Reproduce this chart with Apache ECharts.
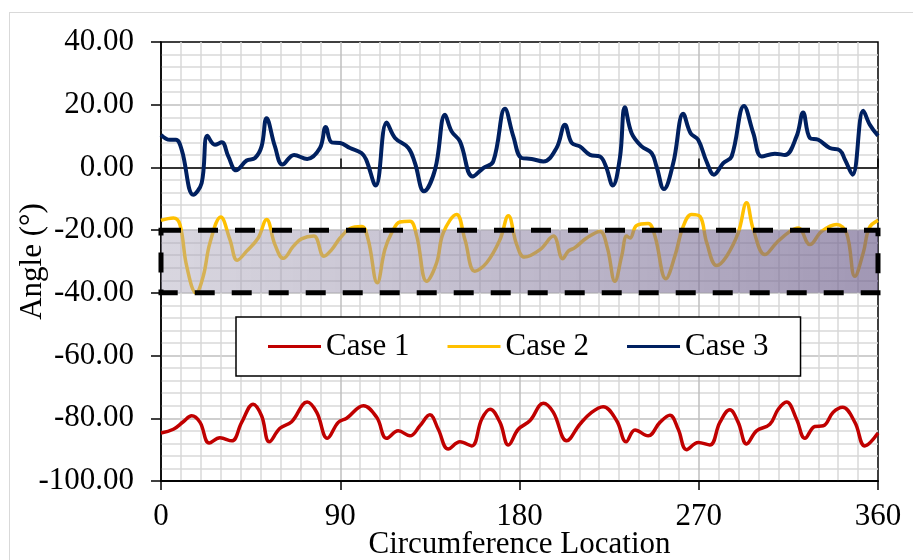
<!DOCTYPE html>
<html>
<head>
<meta charset="utf-8">
<script src="https://cdn.jsdelivr.net/npm/echarts@6/dist/echarts.min.js"></script>
<style>
    html, body { margin: 0; padding: 0; background: #ffffff; }
    #frame { position: absolute; left: 9px; top: 12px; width: 1000px; height: 700px; border: 1.5px solid #d9d9d9; }
    #chart { position: absolute; left: 0; top: 0; width: 913px; height: 560px; }
</style>
</head>
<body>
<div id="frame"></div>
<div id="chart"></div>
<script>
// [degree, angle] pairs
const case1 = [
    [0, -84.7], [6.2, -83.5], [11.2, -81.1], [15.4, -79.2], [19.6, -81.3], [24.2, -87.9], [29.6, -86.2],
    [35.5, -87.2], [40.5, -81.3], [46.3, -75.5], [50.5, -79.2], [54.4, -87.5], [59.7, -83.2], [65.6, -81.1],
    [73.4, -74.8], [78.2, -78.1], [83.5, -86.4], [89, -81.3], [93.2, -80], [101.6, -76], [108.3, -79.7],
    [113.3, -86.4], [119.1, -84], [125, -85.6], [130, -82.4], [135, -78.9], [139.2, -83.5], [144.2, -89.8],
    [150.1, -87.5], [156, -88.8], [161, -80.3], [165.2, -77.1], [170.2, -81.3], [174.4, -88.5], [179.4, -83.5],
    [185.2, -80.8], [192, -75.2], [197, -78.1], [203.7, -87.2], [210.3, -81.9], [216.2, -78.1], [222, -76.3],
    [228.8, -80.8], [233.5, -87.5], [238, -83.7], [244.6, -85.6], [250.5, -81.3], [255.5, -79], [259.7, -83.5],
    [263.9, -90], [269.7, -87.7], [275.6, -88.5], [280.6, -81.3], [285.6, -77.3], [289.8, -81.3], [294, -88.2],
    [299, -84], [305.7, -81.9], [309.9, -77.1], [314.1, -74.8], [319.1, -80.3], [323.3, -86.4], [328.3, -82.6],
    [332.5, -82.4], [337.5, -78.1], [342.2, -76.5], [348.4, -81.3], [353.4, -88.8], [360, -84.7]
]

const case2 = [
    [0, -16.9], [6.2, -16.1], [9.5, -18.2], [12.9, -31.5], [17.6, -40], [21.2, -34.7], [24.6, -24],
    [30, -15.8], [34.6, -23], [38.3, -29.6], [43, -26.7], [48.8, -22.5], [53, -16.6], [57.2, -24.6],
    [61.4, -29], [66.5, -25.1], [70.5, -22.8], [76.7, -21.9], [81.8, -28.3], [85.7, -26.2], [89.9, -22.5],
    [94.9, -19.5], [100.7, -18.8], [104, -23], [108.6, -36.8], [112.4, -26.2], [115.8, -20.9], [120, -17.4],
    [125, -17.2], [128.4, -21.9], [133.4, -36.3], [138.4, -30.4], [141.7, -20.9], [148.4, -15], [152.6, -23],
    [157.6, -33.1], [163.5, -30.4], [170.2, -23], [174.4, -15.4], [178.6, -24.6], [182.5, -28.6], [190.3, -26.2],
    [197, -21.9], [201.7, -29.1], [204.5, -26.7], [207.8, -25.6], [213.7, -22.5], [220.4, -20.4], [224.1, -25.6],
    [227.9, -36.3], [231.3, -28.3], [233.8, -21.9], [235.5, -22.5], [238.8, -18.5], [244.6, -17.9], [248, -21.9],
    [253.5, -35.5], [258, -28.3], [262.2, -18.8], [266.4, -15], [270.6, -15.6], [274, -24], [279, -31.3],
    [284, -28.3], [289.8, -20.9], [294, -11.3], [297.4, -19.8], [303.2, -27.8], [309.1, -24], [315.8, -20.4],
    [320, -19.3], [325.8, -24.6], [331.7, -20.4], [339.2, -18.2], [344.2, -20.9], [348.4, -34.7], [352.6, -27.2],
    [355.6, -19.3], [360, -16.9]
]

const case3 = [
    [0, 10.4], [4.5, 8.8], [7.5, 8.8], [10.4, 5.6], [16.2, -8.7], [20.4, -5], [23.3, 10.1], [27.1, 7.2],
    [30.5, 8], [33.8, 3.5], [37.7, -0.9], [43, 2.2], [47.2, 3], [50.5, 6.7], [53, 15.7], [57.2, 6.7],
    [61, 0.9], [66.8, 4], [73.4, 2.7], [79.8, 6.2], [82.7, 12.9], [85.7, 8], [89.9, 7.8], [94.9, 6.2],
    [100.7, 4.6], [103, 2.5], [107.8, -5.8], [113.3, 14.3], [117.5, 9.4], [124.2, 6.2], [127.5, 1.4],
    [132, -7.6], [137.6, -0.7], [142.6, 16.8], [145.9, 11.5], [150.1, 8.3], [156.5, -2.9], [161.8, -0.2],
    [166.8, 1.9], [172.7, 18.7], [176.9, 9.9], [181.1, 3], [186.1, 2.7], [192, 1.9], [198.6, 6.2],
    [202.8, 13.6], [206.2, 7.8], [210.3, 6.7], [215.4, 4], [220.4, 3.5], [223.4, 0.3], [226.8, -5.8],
    [230.4, 3], [232.9, 19.2], [236.3, 10.9], [241.3, 6.7], [246.3, 4.6], [248.8, 0.3], [252.5, -6.9],
    [257.2, 1.4], [262.2, 17.1], [265.9, 10.9], [269.7, 8.8], [273.9, 1.9], [277.6, -2.3], [282.3, 1.4],
    [286.5, 3.5], [292.7, 19.6], [297.4, 10.9], [301.6, 3.5], [308.2, 4.4], [313.3, 4], [319.1, 9.9],
    [322.4, 17.5], [325.8, 9.4], [330, 8.8], [335.8, 6.2], [340.9, 5.4], [343.4, 2.5], [347.2, -2.3],
    [352.6, 18.1], [355.9, 13.6], [360, 10.1]
]

const seriesNames = ['Case 1', 'Case 2', 'Case 3']
const seriesColors = ['#c00000', '#ffc000', '#002060']
const bandRange = [-20, -40]

const fontFamily = '"Liberation Serif", "Times New Roman", serif'

function lineSeries(name, data, color, width) {
    return {
        name: name,
        type: 'line',
        data: data,
        symbol: 'none',
        smooth: 0.4,
        lineStyle: { color: color, width: width },
        itemStyle: { color: color },
        z: 2
    }
}

function createOption() {
    const tickAxis = {
        type: 'value',
        min: 0,
        max: 360,
        interval: 90,
        position: 'bottom',
        axisLine: { onZero: true, lineStyle: { color: '#000', width: 1.5 } },
        axisTick: { show: true, length: 9, lineStyle: { color: '#000', width: 1.5 } },
        axisLabel: { show: false },
        splitLine: { show: false }
    }
    return {
        animation: false,
        textStyle: { fontFamily: fontFamily },
        grid: {
            left: 161, top: 42, right: 35, bottom: 79,
            containLabel: false,
            outerBoundsMode: 'none',
            show: true, borderColor: '#000', borderWidth: 1.5, backgroundColor: 'transparent'
        },
        legend: {
            data: seriesNames,
            left: 236,
            top: 317,
            padding: [14, 32],
            itemGap: 38,
            itemWidth: 53,
            itemHeight: 3,
            icon: 'rect',
            backgroundColor: '#fff',
            borderColor: '#000',
            borderWidth: 1.5,
            textStyle: { fontFamily: fontFamily, fontSize: 31, color: '#000' }
        },
        xAxis: [
            {
                type: 'value',
                min: 0,
                max: 360,
                interval: 90,
                position: 'bottom',
                name: 'Circumference Location',
                nameLocation: 'middle',
                nameGap: 48,
                nameMoveOverlap: false,
                nameTextStyle: { fontFamily: fontFamily, fontSize: 31, color: '#000' },
                axisLine: { onZero: false, lineStyle: { color: '#000', width: 1.5 } },
                axisTick: { show: false },
                axisLabel: { margin: 20, fontFamily: fontFamily, fontSize: 31, color: '#000' },
                splitLine: { show: true, showMinLine: false, showMaxLine: false, lineStyle: { color: '#bfbfbf', width: 1.5 } },
                minorTick: { show: false, splitNumber: 9 },
                minorSplitLine: { show: true, lineStyle: { color: '#d9d9d9', width: 1.5 } }
            },
            Object.assign({}, tickAxis, { position: 'top' }),
            Object.assign({}, tickAxis, { position: 'bottom' })
        ],
        yAxis: {
            type: 'value',
            min: -100,
            max: 40,
            interval: 20,
            name: 'Angle (°)',
            nameLocation: 'middle',
            nameGap: 113,
            nameMoveOverlap: false,
            nameTextStyle: { fontFamily: fontFamily, fontSize: 31, color: '#000' },
            axisLine: { show: true, onZero: false, lineStyle: { color: '#000', width: 1.5 } },
            axisTick: { show: true, length: 10, lineStyle: { color: '#000', width: 1.5 } },
            axisLabel: {
                margin: 27,
                fontFamily: fontFamily,
                fontSize: 31,
                color: '#000',
                formatter: v => v.toFixed(2)
            },
            splitLine: { show: true, showMinLine: false, showMaxLine: false, lineStyle: { color: '#bfbfbf', width: 1.5 } },
            minorTick: { show: false, splitNumber: 5 },
            minorSplitLine: { show: true, lineStyle: { color: '#d9d9d9', width: 1.5 } }
        },
        series: [
            lineSeries(seriesNames[0], case1, seriesColors[0], 3.5),
            lineSeries(seriesNames[1], case2, seriesColors[1], 3.5),
            lineSeries(seriesNames[2], case3, seriesColors[2], 4),
            {
                name: 'band',
                type: 'line',
                data: [],
                symbol: 'none',
                markArea: {
                    silent: true,
                    z: 3,
                    itemStyle: {
                        color: {
                            type: 'linear', x: 0, y: 0, x2: 1, y2: 0,
                            colorStops: [
                                { offset: 0, color: 'rgba(170,165,185,0.45)' },
                                { offset: 1, color: 'rgba(110,95,140,0.65)' }
                            ]
                        },
                        borderColor: '#000',
                        borderWidth: 5,
                        borderType: [20, 17]
                    },
                    data: [[{ xAxis: 0, yAxis: bandRange[0] }, { xAxis: 360, yAxis: bandRange[1] }]]
                }
            }
        ]
    }
}

function main() {
    const chart = echarts.init(document.getElementById('chart'), null, { renderer: 'canvas' })
    chart.setOption(createOption())
}

document.addEventListener('DOMContentLoaded', function() {
    main()
})
</script>
</body>
</html>
